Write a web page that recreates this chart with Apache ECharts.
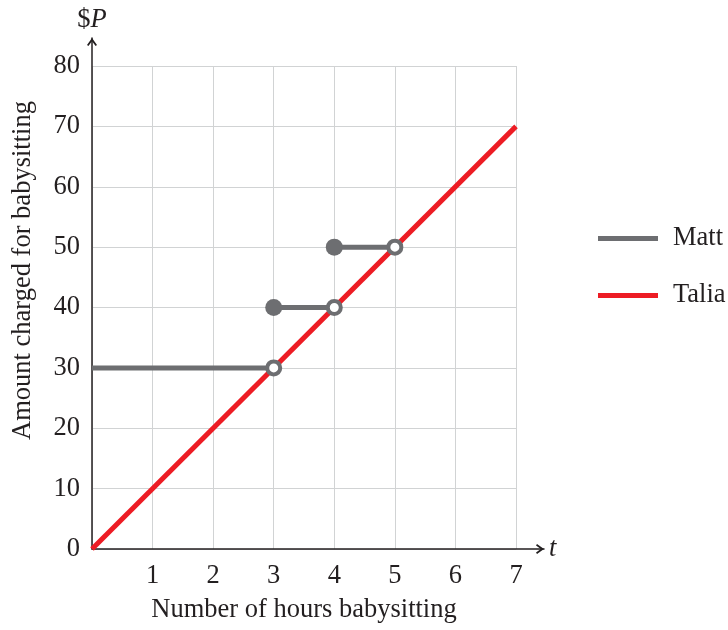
<!DOCTYPE html>
<html>
<head>
<meta charset="utf-8">
<script src="https://cdn.jsdelivr.net/npm/echarts@6/dist/echarts.min.js"></script>
<style>html,body{margin:0;padding:0;background:#fff}#c{width:728px;height:630px}</style>
</head>
<body>
<div id="c"></div>
<script>
// ---- data ----
const xTicks = [0, 1, 2, 3, 4, 5, 6, 7];
const yTicks = [0, 10, 20, 30, 40, 50, 60, 70, 80];
// Matt: step segments (start hour, end hour, amount)
const mattStart = [0, 3, 4];
const mattEnd = [3, 4, 5];
const mattValue = [30, 40, 50];
const mattStartFilled = [false, true, true]; // closed dot at segment start
// Talia: straight line
const taliaHours = [0, 7];
const taliaValues = [0, 70];

const FONT = 'Liberation Serif';
const FS = 26.5;
const TXT = '#231f20';
const GRAY = '#6d6e71';
const RED = '#ed1c24';

// build Matt line data with gaps
const mattLine = [];
mattStart.forEach((s, i) => {
  if (i > 0) mattLine.push([null, null]);
  mattLine.push([s, mattValue[i]]);
  mattLine.push([mattEnd[i], mattValue[i]]);
});
const mattFilled = mattStart.map((s, i) => mattStartFilled[i] ? [s, mattValue[i]] : null).filter(d => d);
const mattOpen = mattEnd.map((e, i) => [e, mattValue[i]]);
const talia = taliaHours.map((h, i) => [h, taliaValues[i]]);

const chevron = 'path://M5,0 L10,7 L8.6,8 L5,3.2 L1.4,8 L0,7 Z';

const chart = echarts.init(document.getElementById('c'));
chart.setOption({
  animation: false,
  textStyle: { fontFamily: FONT, color: TXT },
  grid: [
    { left: 92, right: 212, top: 66, bottom: 81 },
    { left: 92, right: 184, top: 38, bottom: 81 }
  ],
  legend: {
    orient: 'vertical',
    left: 593,
    top: 220,
    itemWidth: 60,
    itemHeight: 5,
    itemGap: 30,
    icon: 'rect',
    data: ['Matt', 'Talia'],
    textStyle: { fontFamily: FONT, fontSize: FS, color: TXT, lineHeight: 26, padding: [0, 0, 0, 10] }
  },
  xAxis: [
    {
      gridIndex: 0, type: 'value', min: 0, max: 7, interval: 1,
      axisLine: { show: false }, axisTick: { show: false },
      splitLine: { show: true, lineStyle: { color: '#d1d3d4', width: 1 } },
      axisLabel: { fontFamily: FONT, fontSize: FS, color: TXT, margin: 14,
        formatter: v => (v === 0 ? '' : String(v)) },
      name: 'Number of hours babysitting', nameLocation: 'middle', nameGap: 48,
      nameTextStyle: { fontFamily: FONT, fontSize: FS, color: TXT }
    },
    {
      gridIndex: 1, type: 'value', min: 0, max: 1,
      axisLine: { show: true, lineStyle: { color: TXT, width: 1.5 }, symbol: ['none', chevron], symbolSize: [10, 8], symbolOffset: [0, -4] },
      axisTick: { show: false }, axisLabel: { show: false }, splitLine: { show: false },
      name: 't', nameLocation: 'end', nameGap: 5,
      nameTextStyle: { fontFamily: FONT, fontSize: FS, fontStyle: 'italic', color: TXT }
    }
  ],
  yAxis: [
    {
      gridIndex: 0, type: 'value', min: 0, max: 80, interval: 10,
      axisLine: { show: false }, axisTick: { show: false },
      splitLine: { show: true, lineStyle: { color: '#d1d3d4', width: 1 } },
      axisLabel: { fontFamily: FONT, fontSize: FS, color: TXT, margin: 12, padding: [8, 0, 0, 0] },
      name: 'Amount charged for babysitting', nameLocation: 'middle', nameGap: 55,
      nameTextStyle: { fontFamily: FONT, fontSize: FS, color: TXT, padding: [0, 0, 0, 74] }
    },
    {
      gridIndex: 1, type: 'value', min: 0, max: 1,
      axisLine: { show: true, lineStyle: { color: TXT, width: 1.5 }, symbol: ['none', chevron], symbolSize: [10, 8], symbolOffset: [0, -4] },
      axisTick: { show: false }, axisLabel: { show: false }, splitLine: { show: false },
      name: '{a|$}{b|P}', nameLocation: 'end', nameGap: 4,
      nameTextStyle: {
        rich: {
          a: { fontFamily: FONT, fontSize: FS, color: TXT },
          b: { fontFamily: FONT, fontSize: FS, fontStyle: 'italic', color: TXT }
        }
      }
    }
  ],
  series: [
    {
      name: 'Matt', type: 'line', xAxisIndex: 0, yAxisIndex: 0,
      data: mattLine, showSymbol: false, symbol: 'none', connectNulls: false,
      lineStyle: { color: GRAY, width: 5, cap: 'butt' }, itemStyle: { color: GRAY }, z: 2
    },
    {
      name: 'Talia', type: 'line', xAxisIndex: 0, yAxisIndex: 0,
      data: talia, showSymbol: false, symbol: 'none',
      lineStyle: { color: RED, width: 5, cap: 'butt' }, itemStyle: { color: RED }, z: 3
    },
    {
      name: 'Matt', type: 'scatter', xAxisIndex: 0, yAxisIndex: 0,
      data: mattFilled, symbol: 'circle', symbolSize: 17,
      itemStyle: { color: GRAY, opacity: 1 }, z: 4
    },
    {
      name: 'Matt', type: 'scatter', xAxisIndex: 0, yAxisIndex: 0,
      data: mattOpen, symbol: 'circle', symbolSize: 13,
      itemStyle: { color: '#ffffff', borderColor: GRAY, borderWidth: 4, opacity: 1 }, z: 4
    }
  ]
});
</script>
</body>
</html>
